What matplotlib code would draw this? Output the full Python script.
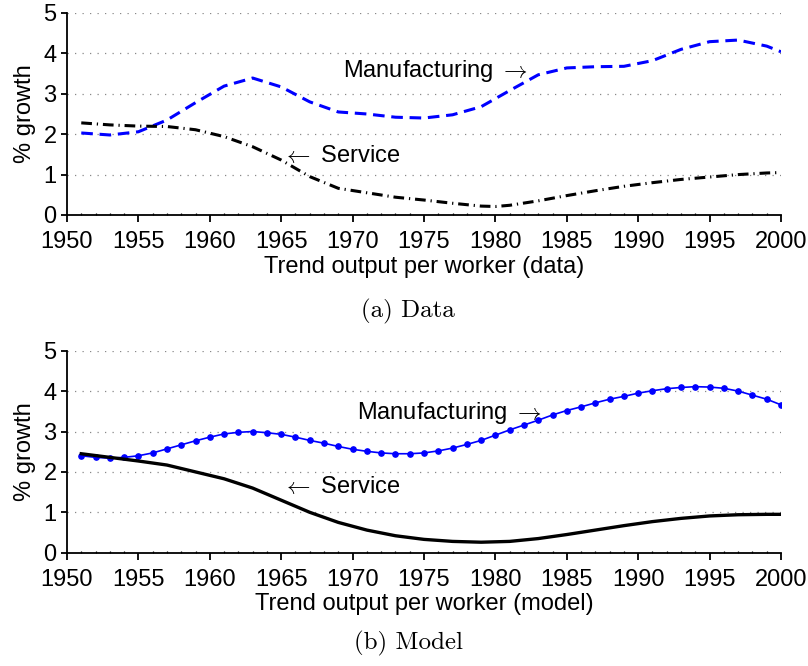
import matplotlib
matplotlib.use("Agg")
import matplotlib.pyplot as plt
from matplotlib.ticker import MultipleLocator

plt.rcParams['font.family'] = ['Liberation Sans', 'DejaVu Sans']
plt.rcParams['mathtext.fontset'] = 'cm'

# ---- data: trend growth of output per worker (%) ----
data_years = [1951, 1953, 1955, 1957, 1959, 1961, 1963, 1965, 1967, 1969, 1971,
              1973, 1975, 1977, 1979, 1981, 1983, 1985, 1987, 1989, 1991, 1993,
              1995, 1997, 1999, 2000]
data_manufacturing = [2.03, 1.98, 2.06, 2.35, 2.78, 3.19, 3.39, 3.17, 2.80, 2.55, 2.50,
                      2.42, 2.40, 2.48, 2.68, 3.08, 3.47, 3.64, 3.67, 3.68, 3.82, 4.10,
                      4.29, 4.33, 4.18, 4.04]

service_years = [1951, 1953, 1955, 1957, 1959, 1961, 1963, 1965, 1967, 1969, 1971,
                 1973, 1975, 1977, 1979, 1980, 1981, 1983, 1985, 1987, 1989, 1991,
                 1993, 1995, 1997, 1999, 2000]
data_service = [2.28, 2.23, 2.20, 2.19, 2.11, 1.94, 1.69, 1.36, 0.95, 0.66, 0.55,
                0.44, 0.37, 0.29, 0.22, 0.21, 0.24, 0.35, 0.48, 0.60, 0.71, 0.80,
                0.88, 0.94, 1.00, 1.04, 1.05]

# ---- model ----
model_years = list(range(1951, 2001))
model_manufacturing = [2.40, 2.36, 2.34, 2.36, 2.40, 2.47, 2.57, 2.67, 2.77, 2.86,
                       2.94, 2.98, 3.00, 2.97, 2.93, 2.86, 2.78, 2.71, 2.63, 2.56,
                       2.51, 2.47, 2.45, 2.45, 2.47, 2.52, 2.59, 2.68, 2.78, 2.91,
                       3.04, 3.16, 3.28, 3.41, 3.52, 3.61, 3.71, 3.80, 3.87, 3.95,
                       4.01, 4.06, 4.09, 4.11, 4.10, 4.07, 4.00, 3.90, 3.80, 3.66]

model_service_years = [1951, 1953, 1955, 1957, 1959, 1961, 1963, 1965, 1967, 1969,
                       1971, 1973, 1975, 1977, 1979, 1981, 1983, 1985, 1987, 1989,
                       1991, 1993, 1995, 1997, 1999, 2000]
model_service = [2.45, 2.36, 2.27, 2.17, 2.00, 1.83, 1.60, 1.30, 1.00, 0.75,
                 0.56, 0.42, 0.33, 0.28, 0.26, 0.28, 0.35, 0.45, 0.56, 0.67,
                 0.77, 0.85, 0.91, 0.94, 0.95, 0.95]

x_ticks = list(range(1950, 2001, 5))
y_ticks = [0, 1, 2, 3, 4, 5]

FS = 17

fig = plt.figure(figsize=(8.08, 6.66), dpi=100)
ax_top = fig.add_axes([0.0829, 0.6772, 0.8837, 0.3033])
ax_bot = fig.add_axes([0.0829, 0.1701, 0.8837, 0.3033])


def style(ax, xlabel):
    ax.set_xlim(1950, 2000)
    ax.set_ylim(0, 5)
    ax.set_xticks(x_ticks)
    ax.set_yticks(y_ticks)
    ax.xaxis.set_minor_locator(MultipleLocator(1))
    for s in ('top', 'right'):
        ax.spines[s].set_visible(False)
    for s in ('left', 'bottom'):
        ax.spines[s].set_linewidth(1.3)
    ax.tick_params(axis='x', which='major', direction='out', length=5, width=1.3,
                   labelsize=FS, pad=6.5)
    ax.tick_params(axis='x', which='minor', direction='in', length=1.8, width=0.9)
    ax.tick_params(axis='y', which='major', direction='out', length=4.5, width=1.3,
                   labelsize=FS, pad=3)
    ax.yaxis.grid(True, linestyle=(0, (1, 5)), color='#888888', linewidth=0.9)
    ax.set_axisbelow(True)
    ax.set_ylabel('% growth', fontsize=FS, labelpad=5)
    ax.set_xlabel(xlabel, fontsize=FS, labelpad=2)


# top panel: data
style(ax_top, 'Trend output per worker (data)')
ax_top.plot(data_years, data_manufacturing, color='#0000ff', linewidth=2.2,
            linestyle=(0, (3.8, 2.2)), dash_capstyle='butt')
ax_top.plot(service_years, data_service, color='black', linewidth=2.2,
            linestyle=(0, (3.5, 1.6, 0.4, 1.6)), dash_capstyle='butt')
ax_top.text(1969.3, 3.42, r'Manufacturing $\rightarrow$', fontsize=FS,
            va='baseline', ha='left')
ax_top.text(1965.05, 1.30, r'$\leftarrow$ Service', fontsize=FS,
            va='baseline', ha='left')

# bottom panel: model
style(ax_bot, 'Trend output per worker (model)')
ax_bot.plot(model_years, model_manufacturing, color='#0000ff', linewidth=1.2,
            marker='o', markersize=3.8)
ax_bot.plot(model_service_years, model_service, color='black', linewidth=2.4)
ax_bot.text(1970.3, 3.30, r'Manufacturing $\rightarrow$', fontsize=FS,
            va='baseline', ha='left')
ax_bot.text(1965.05, 1.485, r'$\leftarrow$ Service', fontsize=FS,
            va='baseline', ha='left')

fig.text(0.505, 1 - 311 / 666, '(a) Data', family='cmr10', fontsize=18,
         ha='center', va='center')
fig.text(0.505, 1 - 643 / 666, '(b) Model', family='cmr10', fontsize=18,
         ha='center', va='center')

fig.savefig('out.png', dpi=100)
